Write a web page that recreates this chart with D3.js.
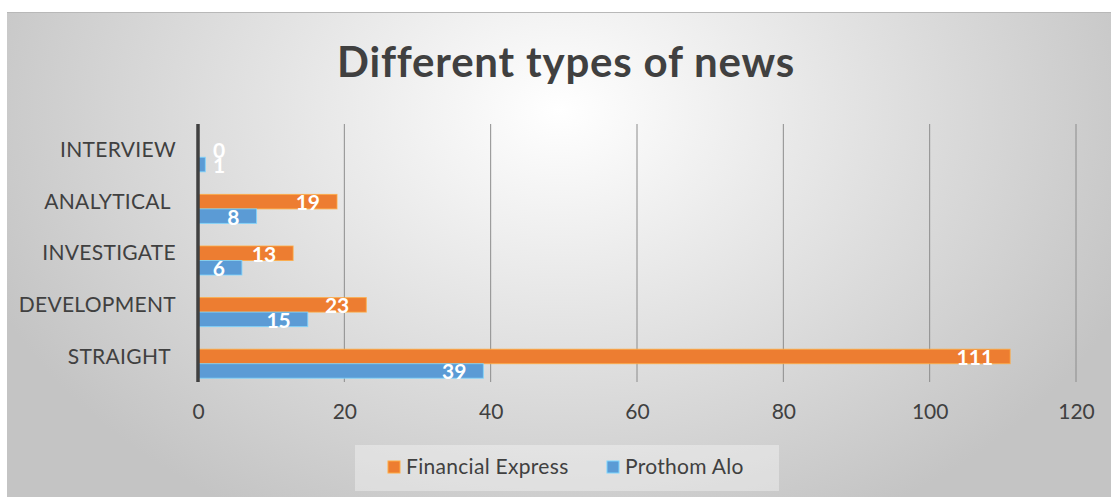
<!DOCTYPE html>
<html>
<head>
<meta charset="utf-8">
<script src="https://cdn.jsdelivr.net/npm/d3@7"></script>
<style>
  html, body { margin: 0; padding: 0; background: #fff; }
  svg { display: block; font-family: Lato, "Open Sans", sans-serif; }
</style>
</head>
<body>
<svg id="chart" width="1111" height="497"></svg>
<script>
// chart data
const categories = ["INTERVIEW", "ANALYTICAL ", "INVESTIGATE", "DEVELOPMENT", "STRAIGHT "];
const financialExpress = [0, 19, 13, 23, 111];
const prothomAlo = [1, 8, 6, 15, 39];
const seriesNames = ["Financial Express", "Prothom Alo"];
const seriesColors = ["#ED7D31", "#5B9BD5"];
const xTicks = [0, 20, 40, 60, 80, 100, 120];

const width = 1111, height = 497;
const fontFam = "Lato, 'Open Sans', sans-serif";
const svg = d3.select("#chart");

// background panel with radial gradient
const defs = svg.append("defs");
const grad = defs.append("radialGradient")
  .attr("id", "bg")
  .attr("gradientUnits", "userSpaceOnUse")
  .attr("cx", 560).attr("cy", 110).attr("r", 620)
  .attr("gradientTransform", "translate(560,110) scale(1,0.75) translate(-560,-110)");
grad.append("stop").attr("offset", "0%").attr("stop-color", "#ffffff");
grad.append("stop").attr("offset", "100%").attr("stop-color", "#c4c4c4");

svg.append("rect")
  .attr("x", 7).attr("y", 12)
  .attr("width", width - 7).attr("height", height - 12)
  .attr("fill", "url(#bg)");
svg.append("line")
  .attr("x1", 7).attr("x2", width).attr("y1", 12.5).attr("y2", 12.5)
  .attr("stroke", "#b8b8b8").attr("stroke-width", 1);

// title
svg.append("text")
  .attr("x", 566).attr("y", 77)
  .attr("text-anchor", "middle")
  .attr("fill", "#404040")
  .attr("font-size", 42)
  .attr("font-weight", "bold")
  .attr("letter-spacing", 0.8)
  .text("Different types of news");

// scales
const x = d3.scaleLinear().domain([0, 120]).range([198, 1076]);
const y = d3.scaleBand().domain(categories).range([124, 382]);

// gridlines
svg.append("g")
  .selectAll("line")
  .data(xTicks.slice(1))
  .join("line")
  .attr("x1", d => x(d)).attr("x2", d => x(d))
  .attr("y1", 124).attr("y2", 382)
  .attr("stroke", "#8c8c8c").attr("stroke-width", 1);

// bottom axis tick labels
const xAxis = svg.append("g")
  .attr("transform", "translate(0,382)")
  .call(d3.axisBottom(x).tickValues(xTicks).tickSize(0).tickPadding(22));
xAxis.select(".domain").remove();
xAxis.selectAll("text")
  .attr("font-size", 21)
  .attr("font-family", fontFam)
  .attr("fill", "#404040");

// category labels
const yAxis = svg.append("g")
  .attr("transform", "translate(176,0)")
  .call(d3.axisLeft(y).tickSize(0).tickPadding(0));
yAxis.select(".domain").remove();
yAxis.selectAll("text")
  .attr("font-size", 21)
  .attr("font-family", fontFam)
  .attr("fill", "#404040")
  .attr("dy", "0.35em")
  .attr("letter-spacing", 0.3)
  .style("white-space", "pre");

// bars
const barH = 14.5;
const seriesData = [financialExpress, prothomAlo];
seriesData.forEach((vals, s) => {
  const g = svg.append("g");
  const top = (c) => y(c) + y.bandwidth() / 2 - 7 + s * barH;
  g.selectAll("rect")
    .data(vals)
    .join("rect")
    .attr("x", x(0))
    .attr("y", (d, i) => top(categories[i]))
    .attr("width", d => x(d) - x(0))
    .attr("height", barH)
    .attr("fill", seriesColors[s])
    .attr("stroke", d3.color(seriesColors[s]).brighter(0.9))
    .attr("stroke-width", 1)
    .attr("stroke-opacity", 0.8);
  g.selectAll("text")
    .data(vals)
    .join("text")
    .attr("x", d => d < 3 ? x(0) + 21 : x(d) - 17)
    .attr("y", (d, i) => top(categories[i]) + barH / 2 + 1)
    .attr("dy", "0.35em")
    .attr("text-anchor", d => d < 3 ? "middle" : "end")
    .attr("fill", "#ffffff")
    .attr("font-size", 21)
    .attr("font-weight", "bold")
    .text(d => d);
});

// zero axis line
svg.append("line")
  .attr("x1", x(0)).attr("x2", x(0))
  .attr("y1", 124).attr("y2", 382)
  .attr("stroke", "#404040").attr("stroke-width", 3.5);

// legend
const legend = svg.append("g");
legend.append("rect")
  .attr("x", 355).attr("y", 445)
  .attr("width", 424).attr("height", 46)
  .attr("fill", "#ffffff").attr("fill-opacity", 0.35);
const legendX = [388, 607];
seriesNames.forEach((name, i) => {
  legend.append("rect")
    .attr("x", legendX[i]).attr("y", 461)
    .attr("width", 12).attr("height", 12)
    .attr("fill", seriesColors[i])
    .attr("stroke", d3.color(seriesColors[i]).brighter(0.9))
    .attr("stroke-width", 1);
  legend.append("text")
    .attr("x", legendX[i] + 18).attr("y", 467)
    .attr("dy", "0.35em")
    .attr("font-size", 21)
    .attr("letter-spacing", 0.3)
    .attr("fill", "#404040")
    .text(name);
});
</script>
</body>
</html>
